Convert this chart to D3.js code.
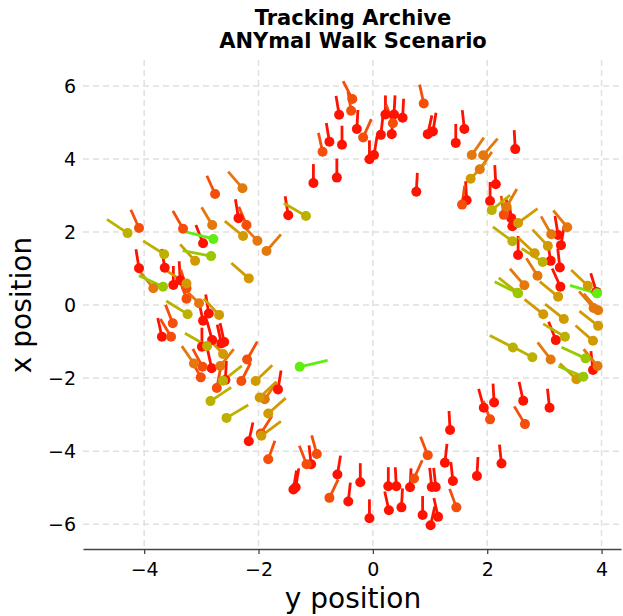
<!doctype html>
<html lang='en'>
<head>
<meta charset='utf-8'>
<title>Tracking Archive</title>
<script src='https://cdn.jsdelivr.net/npm/d3@7'></script>
<style>
  body { margin: 0; background: white; }
  svg text { font-family: 'DejaVu Sans', sans-serif; fill: black; }
  .grid line { stroke: #e0e0e0; stroke-width: 1.5; stroke-dasharray: 6,4; }
  .axis path, .axis line { stroke: #444; stroke-width: 1.3; }
  .axis text { font-size: 19px; }
  .title { font-size: 21px; font-weight: bold; }
  .label { font-size: 28px; }
</style>
</head>
<body>
<svg id='chart' width='623' height='616'></svg>
<script>
// each track sample: [y position, x position, heading in degrees (0 = +x, 90 = +y)]
const slowTracks = [
  [-0.59, 5.21, -6], [-0.28, 4.82, 2], [-0.76, 4.47, -6], [-0.54, 4.39, 0], [-1.04, 3.34, 0],
  [-0.63, 3.49, 0], [-0.06, 3.99, 0], [0.02, 4.11, 6], [0.14, 4.66, 4], [0.22, 5.22, 0],
  [0.37, 5.22, 2], [0.33, 4.68, 2], [0.52, 5.13, 2], [0.96, 4.68, 8], [1.05, 4.75, 6],
  [0.76, 3.10, 2], [1.45, 4.44, 0], [1.60, 4.82, -4], [2.49, 4.27, -2], [2.15, 3.31, -2],
  [2.05, 2.85, 0], [1.64, 2.87, -2], [-1.48, 2.46, -6], [2.42, 2.38, -10], [2.44, 2.16, -5],
  [2.54, 1.37, 0], [3.29, 1.64, 6], [3.24, 1.92, -6], [3.11, 1.21, -6], [3.27, 1.03, -4],
  [3.28, 0.50, -16], [3.91, 0.36, -11], [3.20, -0.96, -14], [3.85, -1.78, -4], [1.94, -2.81, -10],
  [2.12, -2.67, -2], [2.63, -2.62, -8], [3.09, -2.81, -4], [1.35, -3.42, -2], [1.26, -4.32, 4],
  [1.40, -4.82, -4], [1.82, -4.68, 2], [2.25, -4.34, -4], [1.14, -5.80, -8], [1.03, -4.98, -4],
  [1.10, -4.98, -4], [0.65, -4.99, 2], [0.27, -4.96, 0], [0.41, -4.96, -2], [0.87, -5.75, 0],
  [0.50, -5.54, 2], [0.28, -5.62, -8], [1.01, -6.03, 8], [-0.06, -5.84, 0], [-0.22, -4.85, 0],
  [-0.43, -5.38, 4], [-0.62, -4.64, 6], [-1.08, -4.36, -4], [-1.39, -5.05, 6], [-1.35, -4.99, 6],
  [-2.17, -3.73, 8], [-1.66, -2.31, 6], [-2.58, -2.05, 2], [-2.82, -1.73, -8], [-2.99, -1.14, 0],
  [-2.81, -0.96, -10], [-2.65, -1.05, -8], [-2.60, -1.01, -8], [-2.97, -0.43, -8], [-2.87, -0.23, -6],
  [-3.69, -0.87, -8], [-3.49, 0.55, 0], [-3.37, 0.68, -2], [-4.09, 1.01, -6], [-3.64, 1.02, -6],
  [-2.97, 1.69, -14], [-2.35, 2.38, -6]
];
const easyTracks = [
  [-0.36, 5.64, -18], [-0.38, 5.32, -6], [-0.17, 4.59, 16], [-0.88, 4.20, -8], [0.35, 4.98, -13],
  [0.89, 5.52, -8], [1.56, 2.75, 5], [2.29, 2.47, -5], [2.05, -3.13, -13], [2.66, -3.26, -21],
  [1.46, -5.54, -13], [0.96, -4.11, -14], [0.72, -4.75, 16], [-0.76, -5.28, 17], [-0.98, -4.08, -10],
  [-1.16, -4.36, -14], [-1.83, -4.22, 13], [-1.96, -3.52, 22], [-2.20, -1.49, 20], [-2.30, -2.08, 18],
  [-2.73, -2.27, 7], [-3.01, -1.98, -19], [-2.98, -1.69, -19], [-3.50, -0.50, -14], [-3.53, -0.87, -21],
  [-3.26, 0.17, -13], [-3.26, 0.46, -11], [-4.09, 2.11, -16], [-3.32, 2.09, -20], [-2.21, 2.19, -15],
  [-2.76, 3.04, -16]
];
const walkTracks = [
  [1.73, 4.11, 24], [1.93, 4.10, 29], [1.87, 3.72, 24], [2.34, 2.69, 20], [3.12, 1.94, -20],
  [3.40, 2.13, -28], [2.88, 0.80, -22], [2.65, 0.54, -29], [3.94, -0.14, -29], [3.86, -0.08, -29],
  [3.11, -1.49, -26], [3.93, -1.67, -28], [-1.89, -2.58, 24], [-2.67, -1.67, 27], [-3.13, -1.60, -24],
  [-3.04, 0.05, -33], [-3.84, 0.46, -27], [-2.81, 2.19, -21], [-2.02, 1.76, -31], [-1.86, 1.48, 29],
  [-2.28, 3.20, -29]
];
const steadyTracks = [
  [1.71, 3.46, 31], [2.54, 2.25, 41], [2.83, 1.42, -34], [3.06, 1.62, -31], [3.24, 0.23, -38],
  [3.76, 0.53, -34], [2.98, -0.25, -39], [3.34, -0.38, -39], [3.94, -0.57, -39], [3.85, -0.98, -36],
  [3.56, -2.03, -34], [-1.95, -3.58, 41], [-1.83, -2.97, 36], [-1.98, -2.53, 34], [-2.05, -2.08, 34],
  [-2.62, -1.34, -31], [-2.69, -0.27, -31], [-3.26, 0.59, -45], [-2.17, 0.73, -36], [-3.11, 1.21, -30],
  [-2.27, 1.89, -38]
];
const briskTracks = [
  [-1.17, 2.44, -48], [2.08, 2.60, 38], [2.44, 1.75, -41], [2.97, 1.18, -45], [2.53, 0.34, -39],
  [3.36, -0.87, -47], [2.45, -1.16, -51], [2.79, -1.43, -50], [-2.56, -3.09, 47], [-2.84, -2.63, 44],
  [-2.62, -2.07, 39], [-2.90, -1.12, -48], [-3.24, -0.25, -46], [-3.65, 1.39, -45], [-4.29, 1.97, -44]
];
const quickTracks = [
  [2.54, 0.32, -52], [3.72, -1.46, -54], [3.68, -1.96, -57], [-3.67, 0.50, -54], [-2.83, 1.34, -73]
];
const fastTracks = [
  [3.92, 0.32, -65], [-1.28, -1.69, 70], [-2.79, 1.81, -68]
];

const bandTracks = [slowTracks, easyTracks, walkTracks, steadyTracks, briskTracks, quickTracks, fastTracks];
const bandSpeed = [0.0, 0.2, 0.38, 0.55, 0.7, 0.85, 1.0];

const xTicks = [-4, -2, 0, 2, 4];
const yTicks = [-6, -4, -2, 0, 2, 4, 6];

const arrowLength = 0.52;

const samples = [];
bandTracks.forEach((list, b) => {
    list.forEach(d => samples.push({y: d[0], x: d[1], heading: d[2], speed: bandSpeed[b]}));
});

const svg = d3.select('#chart');
const plotLeft = 83, plotRight = 621, plotTop = 60, plotBottom = 549;

const xs = d3.scaleLinear().domain([-5.07, 4.34]).range([plotLeft, plotRight]);
const ys = d3.scaleLinear().domain([-6.68, 6.71]).range([plotBottom, plotTop]);
const color = d3.scaleLinear()
    .domain([0, 0.2, 0.38, 0.55, 0.7, 0.85, 1])
    .range(['#ff1200', '#f44e0a', '#e4780c', '#d19a00', '#bcb000', '#99c800', '#5eee10']);

// dashed grid
const grid = svg.append('g').attr('class', 'grid');
grid.selectAll('.vx').data(xTicks).enter().append('line')
    .attr('x1', d => xs(d)).attr('x2', d => xs(d))
    .attr('y1', plotTop).attr('y2', plotBottom);
grid.selectAll('.hy').data(yTicks).enter().append('line')
    .attr('x1', plotLeft).attr('x2', plotRight)
    .attr('y1', d => ys(d)).attr('y2', d => ys(d));

// axes
svg.append('g').attr('class', 'axis')
    .attr('transform', `translate(0,${plotBottom})`)
    .call(d3.axisBottom(xs).tickValues(xTicks).tickSize(5).tickSizeOuter(0).tickPadding(9));

const yAxis = svg.append('g').attr('class', 'axis')
    .attr('transform', `translate(${plotLeft},0)`)
    .call(d3.axisLeft(ys).tickValues(yTicks).tickSize(0).tickPadding(7));
yAxis.select('.domain').remove();
svg.selectAll('.axis text').style('font-family', "'DejaVu Sans', sans-serif");

// heading segments, then the positions on top
const rad = Math.PI / 180;
svg.append('g').selectAll('line').data(samples).enter().append('line')
    .attr('x1', d => xs(d.y))
    .attr('y1', d => ys(d.x))
    .attr('x2', d => xs(d.y + arrowLength * Math.sin(d.heading * rad)))
    .attr('y2', d => ys(d.x + arrowLength * Math.cos(d.heading * rad)))
    .attr('stroke', d => color(d.speed))
    .attr('stroke-width', 2.8);

svg.append('g').selectAll('circle').data(samples).enter().append('circle')
    .attr('cx', d => xs(d.y))
    .attr('cy', d => ys(d.x))
    .attr('r', 5)
    .attr('fill', d => color(d.speed));

// title and labels
const title = svg.append('text').attr('class', 'title').attr('text-anchor', 'middle');
title.append('tspan').attr('x', 353).attr('y', 25).text('Tracking Archive');
title.append('tspan').attr('x', 353).attr('y', 48).text('ANYmal Walk Scenario');

svg.append('text').attr('class', 'label')
    .attr('text-anchor', 'middle')
    .attr('x', 353).attr('y', 608)
    .text('y position');

svg.append('text').attr('class', 'label')
    .attr('text-anchor', 'middle')
    .attr('transform', 'translate(31,305) rotate(-90)')
    .text('x position');
</script>
</body>
</html>
